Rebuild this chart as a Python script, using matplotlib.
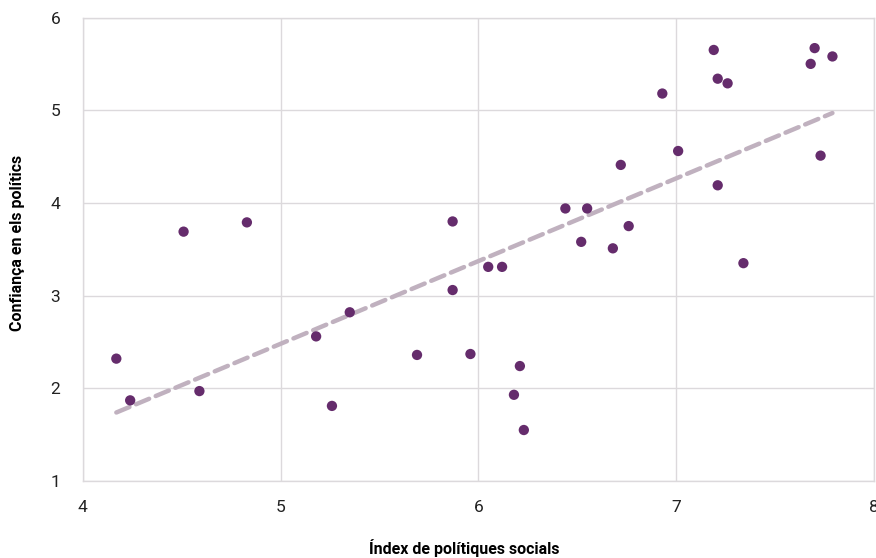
import numpy as np
import matplotlib.pyplot as plt

# Dades: índex de polítiques socials vs confiança en els polítics
index_social = [4.17, 4.24, 4.59, 4.51, 4.83, 5.18, 5.35, 5.26, 5.69, 5.87,
                5.87, 5.96, 6.05, 6.12, 6.21, 6.18, 6.23, 6.44, 6.55, 6.52,
                6.68, 6.76, 6.72, 6.93, 7.01, 7.19, 7.21, 7.26, 7.21, 7.34,
                7.68, 7.70, 7.79, 7.73]
confianca = [2.32, 1.87, 1.97, 3.69, 3.79, 2.56, 2.82, 1.81, 2.36, 3.80,
             3.06, 2.37, 3.31, 3.31, 2.24, 1.93, 1.55, 3.94, 3.94, 3.58,
             3.51, 3.75, 4.41, 5.18, 4.56, 5.65, 5.34, 5.29, 4.19, 3.35,
             5.50, 5.67, 5.58, 4.51]

x = np.array(index_social)
y = np.array(confianca)

plt.rcParams['font.family'] = ['Roboto', 'DejaVu Sans']

fig = plt.figure(figsize=(8.76, 5.58), dpi=100)
ax = fig.add_axes([0.0944, 0.138, 0.9033, 0.8306])

# Recta de tendència (mínims quadrats)
slope, intercept = np.polyfit(x, y, 1)
xs = np.array([x.min(), x.max()])
ax.plot(xs, slope * xs + intercept, color='#c0b1bf', lw=3.2,
        linestyle=(0, (3.2, 1.6)), dash_capstyle='round', zorder=2)

ax.scatter(x, y, s=55, color='#652c6c', edgecolors='none', zorder=3)

ax.set_xlim(4, 8)
ax.set_ylim(1, 6)
ax.set_xticks([4, 5, 6, 7, 8])
ax.set_yticks([1, 2, 3, 4, 5, 6])
ax.grid(True, color='#dcd9dc', lw=1)
ax.set_axisbelow(True)
for s in ax.spines.values():
    s.set_color('#dcd9dc')
    s.set_linewidth(1)
ax.tick_params(length=0, labelsize=12.5, colors='#222222')
ax.tick_params(axis='x', pad=14)
ax.tick_params(axis='y', pad=16)

ax.set_xlabel('Índex de polítiques socials', fontsize=11.5, fontweight='bold')
ax.set_ylabel('Confiança en els polítics', fontsize=11.5, fontweight='bold')
ax.xaxis.set_label_coords(0.482, -0.145)
ax.xaxis.label.set_va('center')
ax.yaxis.set_label_coords(-0.083, 0.514)
ax.yaxis.label.set_va('center')

fig.savefig('out.png', dpi=100)
